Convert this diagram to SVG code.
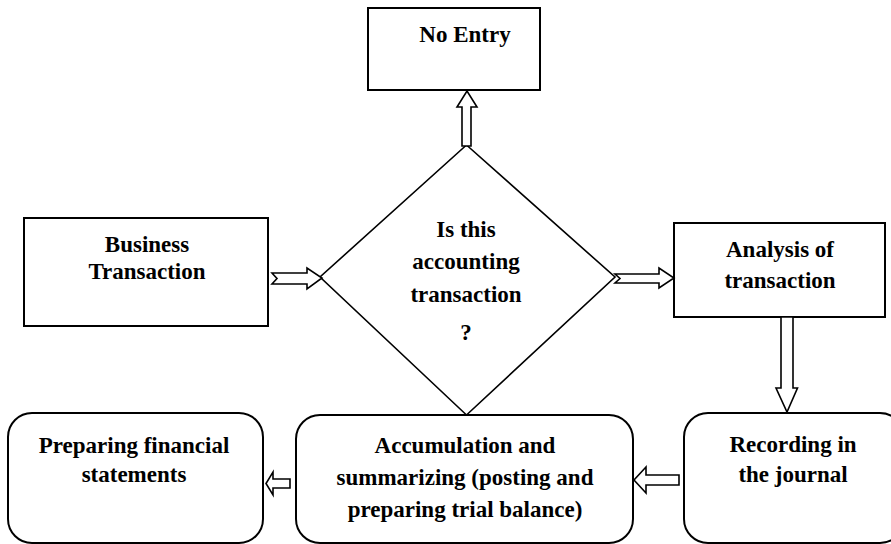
<svg xmlns="http://www.w3.org/2000/svg" width="891" height="544" viewBox="0 0 891 544">
<style>
.box{fill:#fff;stroke:#000;stroke-width:2}
.dia{fill:#fff;stroke:#000;stroke-width:1.6}
.arr{fill:#fff;stroke:#000;stroke-width:1.6;stroke-linejoin:miter}
.t{font-family:'Liberation Serif','DejaVu Serif',serif;font-weight:bold;font-size:23px;fill:#000;text-anchor:middle}
</style>
<rect width="891" height="544" fill="#fff"/>
<g id="no-entry">
<rect class="box" x="368" y="8" width="172" height="82"/>
<text class="t" font-family="Liberation Serif, serif" x="465" y="42">No Entry</text>
</g>
<g id="business-transaction">
<rect class="box" x="24" y="218" width="244" height="108"/>
<text class="t" x="147" y="252">Business</text>
<text class="t" x="147" y="279">Transaction</text>
</g>
<g id="decision">
<polygon class="dia" points="466.5,145 615,277 466.5,415 320,277"/>
<text class="t" x="466" y="237">Is this</text>
<text class="t" x="466" y="269">accounting</text>
<text class="t" x="466" y="302">transaction</text>
<text class="t" x="466" y="340">?</text>
</g>
<g id="analysis">
<rect class="box" x="674" y="223" width="211" height="94"/>
<text class="t" x="780" y="257">Analysis of</text>
<text class="t" x="780" y="288">transaction</text>
</g>
<g id="preparing">
<rect class="box" x="8" y="413" width="255" height="130" rx="24" ry="24"/>
<text class="t" x="134" y="453">Preparing financial</text>
<text class="t" x="134" y="482">statements</text>
</g>
<g id="accumulation">
<rect class="box" x="296" y="415" width="337" height="128" rx="24" ry="24"/>
<text class="t" x="465" y="453">Accumulation and</text>
<text class="t" x="465" y="485">summarizing (posting and</text>
<text class="t" x="465" y="517">preparing trial balance)</text>
</g>
<g id="recording">
<rect class="box" x="684" y="413" width="220" height="130" rx="24" ry="24"/>
<text class="t" x="793" y="452">Recording in</text>
<text class="t" x="793" y="482">the journal</text>
</g>
<g id="connectors">
<polygon class="arr" points="272,273 307,273 307,268 322,278 307,289 307,284 272,284 277,278.5"/>
<polygon class="arr" points="615,274 659,274 659,268 674,278 659,288 659,283 615,283 620,278.5"/>
<polygon class="arr" points="462,146 462,107 457,107 467,91 477,107 471,107 471,146"/>
<polygon class="arr" points="781,317 793,317 793,388 797.5,388 787,412 776,388 781,388"/>
<polygon class="arr" points="679,475 646,475 646,467 634,480 646,493 646,485 679,485"/>
<polygon class="arr" points="290,479 273,479 273,472 266,483.5 273,495 273,488 290,488"/>
</g>
</svg>
